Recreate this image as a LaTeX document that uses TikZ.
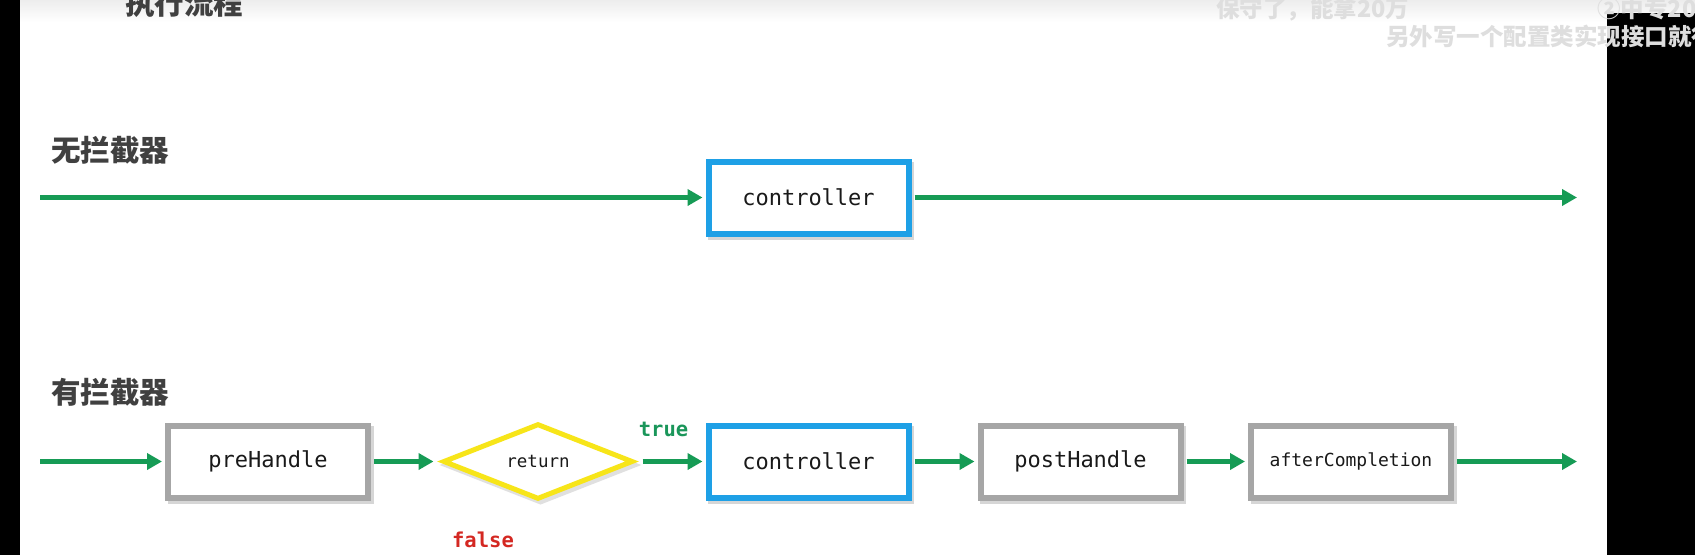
\documentclass[tikz,border=0pt]{standalone}
\usepackage{fontspec}
\newfontfamily\cjk{Noto Sans CJK SC}
\newfontfamily\mono{DejaVu Sans Mono}
\usetikzlibrary{shapes.geometric,arrows.meta,shadows}
\definecolor{flowgreen}{RGB}{22,155,85}
\definecolor{truegreen}{RGB}{26,150,90}
\definecolor{ctrlblue}{RGB}{30,160,230}
\definecolor{boxgray}{RGB}{166,166,166}
\definecolor{yel}{RGB}{247,229,25}
\definecolor{falsered}{RGB}{212,40,34}
\definecolor{headgray}{RGB}{64,64,64}
\definecolor{subgray}{RGB}{222,222,222}
\tikzset{
  flow/.style={draw=flowgreen, line width=5pt, -{Triangle[length=15pt,width=16pt]}},
  boxshadow/.style={drop shadow={shadow xshift=2.5pt, shadow yshift=-3.5pt, opacity=1, fill=black!16, draw=black!16, line width=6pt}},
  stepbox/.style={rectangle, line width=6pt, minimum width=200pt, minimum height=72pt, inner sep=0pt, fill=white, text=black!90, font=\mono\fontsize{22}{26}\selectfont, boxshadow},
  ctrlbox/.style={stepbox, draw=ctrlblue},
  graybox/.style={stepbox, draw=boxgray},
  decision/.style={diamond, draw=yel, line width=5pt, minimum width=190pt, minimum height=71pt, inner sep=0pt, fill=white, text=black!90, font=\mono\fontsize{17.5}{20}\selectfont, drop shadow={shadow xshift=2.5pt, shadow yshift=-3.5pt, opacity=1, fill=black!12, draw=black!12, line width=5pt}},
  heading/.style={anchor=base west, inner sep=0pt, text=headgray, font=\cjk\bfseries\fontsize{29.5}{30}\selectfont},
  subtitle/.style={anchor=base west, inner sep=0pt, text=subgray, font=\cjk\bfseries\fontsize{23.5}{24}\selectfont},
  tag/.style={anchor=base, inner sep=0pt, font=\mono\bfseries\fontsize{20.5}{22}\selectfont}
}
\begin{document}
\begin{tikzpicture}[x=1pt,y=-1pt]
\useasboundingbox (0,0) rectangle (1695,555);
\clip (0,0) rectangle (1695,555);
\fill[white] (0,0) rectangle (1695,555);
\shade[top color=black!7,bottom color=white] (0,0) rectangle (1695,22);
\fill[black] (0,0) rectangle (20,555);
\fill[black] (1607,13) rectangle (1695,555);

% headings
\node[heading, anchor=base] (title) at (184,14) {执行流程};
\node[heading] (h1) at (51,161) {无拦截器};
\node[heading] (h2) at (51,403) {有拦截器};

% row 1
\coordinate (s1) at (40,197.5);
\coordinate (e1) at (1577,197.5);
\node[ctrlbox] (c1) at (808.5,197.5) {controller};
\draw[flow, shorten >=3pt] (s1) -- (c1);
\draw[flow, shorten <=3pt] (c1) -- (e1);

% row 2
\coordinate (s2) at (40,461.5);
\coordinate (e2) at (1577,461.5);
\node[graybox] (pre) at (268,461.5) {preHandle};
\node[decision] (ret) at (538,461.5) {return};
\node[ctrlbox] (c2) at (808.5,461.5) {controller};
\node[graybox] (post) at (1080.5,461.5) {postHandle};
\node[graybox, font=\mono\fontsize{18}{20}\selectfont] (after) at (1351,461.5) {afterCompletion};

\draw[flow, shorten >=3pt] (s2) -- (pre);
\draw[flow, shorten <=3pt, shorten >=7pt] (pre) -- (ret);
\draw[flow, shorten <=7pt, shorten >=3pt] (ret) -- (c2);
\draw[flow, shorten <=3pt, shorten >=3pt] (c2) -- (post);
\draw[flow, shorten <=3pt, shorten >=3pt] (post) -- (after);
\draw[flow, shorten <=3pt] (after) -- (e2);

\node[tag, text=truegreen] (true) at (663.5,436) {true};
\node[tag, text=falsered] (false) at (483,547) {false};

% subtitles
\node[subtitle] (sub1) at (1216,17) {保守了，能拿20万};
\node[subtitle] (sub2) at (1597,17) {②中专200};
\node[subtitle] (sub3) at (1386,45) {另外写一个配置类实现接口就行};
\end{tikzpicture}
\end{document}
